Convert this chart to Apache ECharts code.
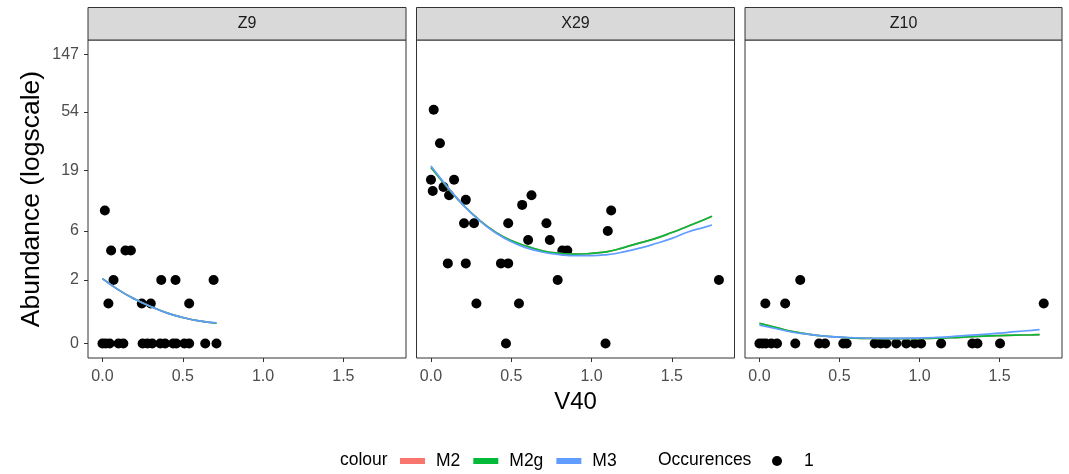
<!DOCTYPE html>
<html>
<head>
<meta charset="utf-8">
<script src="https://cdn.jsdelivr.net/npm/echarts@6/dist/echarts.min.js"></script>
<style>
html,body{margin:0;padding:0;background:#fff;}
#chart{width:1069px;height:474px;}
</style>
</head>
<body>
<div id="chart"></div>
<script>
// ---------- data ----------
const panels = ['Z9', 'X29', 'Z10'];
const yTickLabels = [0, 2, 6, 19, 54, 147];
const xTickLabels = [0, 0.5, 1.0, 1.5];

// observed abundances (counts), V40 values
const z9V40  = [0.0, 0.02, 0.045, 0.1, 0.13, 0.25, 0.28, 0.31, 0.36, 0.39, 0.44, 0.46, 0.51, 0.54, 0.64, 0.71,
                0.015, 0.054, 0.069, 0.037, 0.143, 0.177, 0.245, 0.301, 0.366, 0.455, 0.54, 0.692];
const z9Abund = [0, 0, 0, 0, 0, 0, 0, 0, 0, 0, 0, 0, 0, 0, 0, 0,
                9, 4, 2, 1, 4, 4, 1, 1, 2, 2, 1, 2];

const x29V40  = [0.017, 0.056, 0.0, 0.011, 0.078, 0.144, 0.113, 0.217, 0.206, 0.268, 0.105, 0.217, 0.283, 0.436, 0.481,
                 0.481, 0.467, 0.548, 0.568, 0.626, 0.605, 0.719, 0.74, 0.789, 0.818, 0.849, 1.087, 1.101, 1.122, 1.793];
const x29Abund = [56, 31, 16, 13, 14, 16, 12, 11, 7, 7, 3, 3, 1, 3, 3,
                  7, 0, 1, 10, 12, 5, 7, 5, 2, 4, 4, 0, 6, 9, 2];

const z10V40  = [0.0, 0.02, 0.04, 0.075, 0.11, 0.224, 0.373, 0.41, 0.524, 0.545, 0.72, 0.758, 0.793, 0.855, 0.917,
                 0.969, 1.01, 1.135, 1.33, 1.362, 1.503, 0.037, 0.161, 0.255, 1.776];
const z10Abund = [0, 0, 0, 0, 0, 0, 0, 0, 0, 0, 0, 0, 0, 0, 0,
                  0, 0, 0, 0, 0, 0, 1, 1, 2, 1];

// fitted curves (predicted abundance)
const z9FitV40 = [0, 0.1, 0.2, 0.3, 0.4, 0.5, 0.6, 0.71];
const z9M2  = [2.07, 1.53, 1.16, 0.90, 0.70, 0.57, 0.48, 0.42];
const z9M2g = [2.07, 1.53, 1.16, 0.90, 0.70, 0.57, 0.48, 0.42];
const z9M3  = [2.07, 1.53, 1.16, 0.90, 0.70, 0.57, 0.48, 0.43];

const fitV40 = [0, 0.1, 0.2, 0.3, 0.4, 0.5, 0.6, 0.7, 0.8, 0.9, 1.0, 1.1, 1.2, 1.3, 1.4, 1.5, 1.6, 1.7, 1.75];
const x29M2  = [20.0, 14.03, 10.02, 7.50, 5.89, 4.93, 4.37, 3.95, 3.76, 3.69, 3.76, 3.90, 4.26, 4.70, 5.17, 5.82, 6.61, 7.50, 8.03];
const x29M2g = [20.0, 14.03, 10.02, 7.50, 5.89, 4.93, 4.37, 3.95, 3.76, 3.69, 3.76, 3.90, 4.26, 4.70, 5.17, 5.82, 6.61, 7.50, 8.03];
const x29M3  = [20.54, 14.18, 10.02, 7.41, 5.82, 4.81, 4.21, 3.85, 3.66, 3.57, 3.57, 3.66, 3.88, 4.21, 4.64, 5.17, 5.89, 6.46, 6.77];

const z10M2  = [0.419, 0.323, 0.234, 0.179, 0.139, 0.116, 0.100, 0.092, 0.089, 0.089, 0.091, 0.096, 0.105, 0.122, 0.137, 0.148, 0.156, 0.163, 0.168];
const z10M2g = [0.419, 0.323, 0.234, 0.179, 0.139, 0.116, 0.100, 0.092, 0.089, 0.089, 0.091, 0.096, 0.105, 0.122, 0.137, 0.148, 0.156, 0.163, 0.168];
const z10M3  = [0.377, 0.297, 0.221, 0.174, 0.139, 0.116, 0.105, 0.096, 0.094, 0.094, 0.100, 0.111, 0.127, 0.150, 0.174, 0.197, 0.228, 0.256, 0.271];

// ---------- build ----------
const colors = { M2: '#F8766D', M2g: '#00BA38', M3: '#619CFF' };
const font = 'Liberation Sans, Arial, sans-serif';
const tr = v => Math.log1p(v); // log(1 + y) scale

const pointSets = [[z9V40, z9Abund], [x29V40, x29Abund], [z10V40, z10Abund]];
const fitSets = [
  [z9FitV40, { M2: z9M2, M2g: z9M2g, M3: z9M3 }],
  [fitV40, { M2: x29M2, M2g: x29M2g, M3: x29M3 }],
  [fitV40, { M2: z10M2, M2g: z10M2g, M3: z10M3 }]
];

const gridBoxes = [
  { left: 88, top: 40, width: 318, height: 318 },
  { left: 416.5, top: 40, width: 318, height: 318 },
  { left: 745, top: 40, width: 317, height: 318 }
];

const grids = gridBoxes.map(b => Object.assign({ show: true, borderColor: '#333333', borderWidth: 1, backgroundColor: '#fff', containLabel: false }, b));

const xAxes = panels.map((p, i) => ({
  type: 'value', gridIndex: i, min: -0.09, max: 1.89, position: 'bottom',
  axisLine: { show: false, onZero: false },
  axisTick: { show: true, customValues: xTickLabels, length: 4, lineStyle: { color: '#333333' } },
  axisLabel: { customValues: xTickLabels, formatter: v => Number(v).toFixed(1), color: '#4D4D4D', fontSize: 16, fontFamily: font, margin: 11 },
  splitLine: { show: false },
  name: i === 1 ? 'V40' : '', nameLocation: 'middle', nameGap: 28,
  nameTextStyle: { fontSize: 24, color: '#000', fontFamily: font }
}));

const yAxes = panels.map((p, i) => ({
  type: 'value', gridIndex: i, min: -0.25, max: 5.25, position: 'left',
  axisLine: { show: false, onZero: false },
  axisTick: { show: i === 0, customValues: yTickLabels.map(tr), length: 4, lineStyle: { color: '#333333' } },
  axisLabel: { show: i === 0, customValues: yTickLabels.map(tr), formatter: v => String(Math.round(Math.expm1(v))), color: '#4D4D4D', fontSize: 16, fontFamily: font, margin: 9 },
  splitLine: { show: false },
  name: i === 0 ? 'Abundance (logscale)' : '', nameLocation: 'middle', nameGap: 43,
  nameTextStyle: { fontSize: 26.5, color: '#000', fontFamily: font }
}));

const series = [];
pointSets.forEach(([xs, ys], i) => {
  series.push({
    type: 'scatter', name: '1', xAxisIndex: i, yAxisIndex: i,
    symbol: 'circle', symbolSize: 10, itemStyle: { color: '#000', opacity: 1 },
    data: xs.map((x, k) => [x, tr(ys[k])]), z: 2
  });
});
fitSets.forEach(([xs, fits], i) => {
  ['M2', 'M2g', 'M3'].forEach(m => {
    series.push({
      type: 'line', name: m, xAxisIndex: i, yAxisIndex: i,
      smooth: true, showSymbol: false, symbol: 'none',
      lineStyle: { color: colors[m], width: 1.7 }, itemStyle: { color: colors[m] },
      data: xs.map((x, k) => [x, tr(fits[m][k])]), z: 3
    });
  });
});

const graphics = [];
gridBoxes.forEach((b, i) => {
  graphics.push({ type: 'rect', shape: { x: b.left, y: 7.5, width: b.width, height: 32.5 },
    style: { fill: '#D9D9D9', stroke: '#333333', lineWidth: 1 }, silent: true });
  graphics.push({ type: 'text', x: b.left + b.width / 2, y: 24,
    style: { text: panels[i], fill: '#1A1A1A', fontSize: 16, fontFamily: font, align: 'center', verticalAlign: 'middle' }, silent: true });
});
graphics.push({ type: 'text', x: 340, y: 460, style: { text: 'colour', fill: '#000', fontSize: 17.5, fontFamily: font, align: 'left', verticalAlign: 'middle' } });
graphics.push({ type: 'text', x: 658, y: 460, style: { text: 'Occurences', fill: '#000', fontSize: 17.5, fontFamily: font, align: 'left', verticalAlign: 'middle' } });

const chart = echarts.init(document.getElementById('chart'), null, { renderer: 'canvas' });
chart.setOption({
  animation: false,
  backgroundColor: '#fff',
  grid: grids,
  xAxis: xAxes,
  yAxis: yAxes,
  legend: [
    { data: ['M2', 'M2g', 'M3'], left: 395, top: 447, icon: 'rect', itemWidth: 25, itemHeight: 6, itemGap: 13,
      textStyle: { fontSize: 17.5, color: '#000', fontFamily: font, padding: [0, 0, 0, 6] }, selectedMode: false },
    { data: ['1'], left: 767, top: 447, icon: 'circle', itemWidth: 10, itemHeight: 10,
      textStyle: { fontSize: 17.5, color: '#000', fontFamily: font, padding: [0, 0, 0, 17] }, selectedMode: false }
  ],
  graphic: graphics,
  series: series
});
</script>
</body>
</html>
